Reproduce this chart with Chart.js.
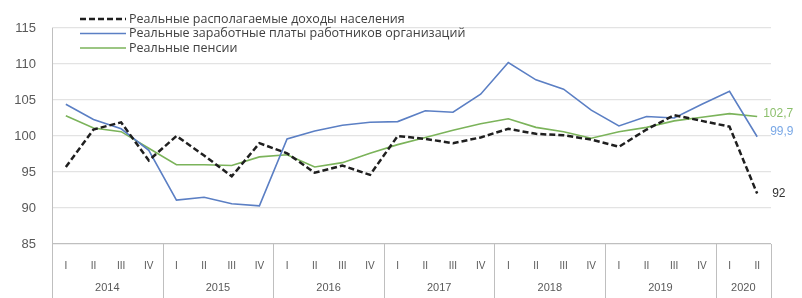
<!DOCTYPE html>
<html>
<head>
<meta charset="utf-8">
<script src="https://cdn.jsdelivr.net/npm/chart.js@4.4.0/dist/chart.umd.min.js"></script>
<style>
    body { margin: 0; background: #fff; }
    #wrap { width: 802px; height: 298px; }
</style>
</head>
<body>
<div id="wrap"><canvas id="incomeChart" width="802" height="298"></canvas></div>
<script>
// Подписи по оси X
const quarters = ['I', 'II', 'III', 'IV', 'I', 'II', 'III', 'IV', 'I', 'II', 'III', 'IV',
    'I', 'II', 'III', 'IV', 'I', 'II', 'III', 'IV', 'I', 'II', 'III', 'IV', 'I', 'II'];
const years = ['2014', '2015', '2016', '2017', '2018', '2019', '2020'];
const quartersPerYear = [4, 4, 4, 4, 4, 4, 2];

// Ось Y
const yTicks = [85, 90, 95, 100, 105, 110, 115];

// Ряды данных, % к соответствующему периоду предыдущего года
const incomes = [95.7, 100.9, 101.9, 96.6, 100.0, 97.3, 94.4, 99.0, 97.6, 94.9, 95.9, 94.6,
    100.0, 99.6, 99.0, 99.8, 101.0, 100.3, 100.1, 99.5, 98.5, 100.9, 102.9, 102.1, 101.3, 92.0];
const wages = [104.4, 102.3, 101.0, 98.0, 91.1, 91.5, 90.6, 90.3, 99.6, 100.7, 101.5, 101.9,
    102.0, 103.5, 103.3, 105.8, 110.2, 107.8, 106.5, 103.6, 101.4, 102.7, 102.5, 104.4, 106.2, 99.9];
const pensions = [102.8, 101.1, 100.6, 98.3, 96.0, 96.0, 95.9, 97.1, 97.4, 95.7, 96.3, 97.6,
    98.8, 99.8, 100.8, 101.7, 102.4, 101.2, 100.6, 99.7, 100.6, 101.2, 102.1, 102.6, 103.1, 102.7];

const seriesNames = [
    'Реальные располагаемые доходы населения',
    'Реальные заработные платы работников организаций',
    'Реальные пенсии'
];

// Годы и разделители под осью X
const yearAxisPlugin = {
    id: 'yearAxis',
    afterDraw(chart) {
        const ctx = chart.ctx;
        const x = chart.scales.x;
        const area = chart.chartArea;
        const bottom = chart.height;
        const half = (x.getPixelForValue(1) - x.getPixelForValue(0)) / 2;

        ctx.save();
        ctx.strokeStyle = '#bfbfbf';
        ctx.lineWidth = 1;

        // левая вертикальная линия
        ctx.beginPath();
        ctx.moveTo(Math.round(area.left) + 0.5, area.top);
        ctx.lineTo(Math.round(area.left) + 0.5, bottom);
        ctx.stroke();

        ctx.font = '11px "Liberation Sans", Arial, sans-serif';
        ctx.fillStyle = '#595959';
        ctx.textAlign = 'center';
        ctx.textBaseline = 'middle';

        let idx = 0;
        years.forEach((year, i) => {
            const n = quartersPerYear[i];
            const start = x.getPixelForValue(idx) - half;
            const end = x.getPixelForValue(idx + n - 1) + half;
            const px = Math.round(end) + 0.5;
            ctx.beginPath();
            ctx.moveTo(px, area.bottom);
            ctx.lineTo(px, bottom);
            ctx.stroke();
            ctx.fillText(year, (start + end) / 2, 288);
            idx += n;
        });
        ctx.restore();
    }
};

// Легенда списком и подписи последних значений
const legendPlugin = {
    id: 'listLegend',
    afterDraw(chart) {
        const ctx = chart.ctx;
        ctx.save();
        ctx.textBaseline = 'middle';
        chart.data.datasets.forEach((ds, i) => {
            const y = 19 + i * 14.5;
            ctx.strokeStyle = ds.borderColor;
            ctx.lineWidth = ds.borderWidth;
            ctx.setLineDash(ds.borderDash || []);
            ctx.beginPath();
            ctx.moveTo(80, y);
            ctx.lineTo(126, y);
            ctx.stroke();
            ctx.setLineDash([]);
            ctx.font = '12.5px "Open Sans", Arial, sans-serif';
            ctx.fillStyle = '#404040';
            ctx.textAlign = 'left';
            ctx.fillText(ds.label, 129, y);

            // значение последней точки
            const meta = chart.getDatasetMeta(i);
            const last = meta.data[meta.data.length - 1];
            const v = ds.data[ds.data.length - 1];
            ctx.fillStyle = ds.endLabel.color;
            ctx.font = '12px "Liberation Sans", Arial, sans-serif';
            ctx.fillText(String(v).replace('.', ','), last.x + ds.endLabel.dx, last.y + ds.endLabel.dy);
        });
        ctx.restore();
    }
};

document.addEventListener('DOMContentLoaded', function() {
    const canvas = document.getElementById('incomeChart');

    new Chart(canvas, {
        type: 'line',
        data: {
            labels: quarters,
            datasets: [
                {
                    label: seriesNames[0],
                    data: incomes,
                    borderColor: '#1f1f1f',
                    borderWidth: 2.5,
                    borderDash: [6, 3],
                    endLabel: { color: '#333333', dx: 15, dy: 0 }
                },
                {
                    label: seriesNames[1],
                    data: wages,
                    borderColor: '#5b7fc4',
                    borderWidth: 1.6,
                    endLabel: { color: '#7aa8e6', dx: 13, dy: -5 }
                },
                {
                    label: seriesNames[2],
                    data: pensions,
                    borderColor: '#7bb35a',
                    borderWidth: 1.6,
                    endLabel: { color: '#8cbf6c', dx: 6, dy: -3 }
                }
            ]
        },
        options: {
            responsive: false,
            animation: false,
            layout: {
                padding: { top: 28, right: 31, left: 0, bottom: 0 }
            },
            elements: {
                point: { radius: 0 },
                line: { tension: 0, borderCapStyle: 'butt' }
            },
            plugins: {
                legend: { display: false },
                tooltip: { enabled: false }
            },
            scales: {
                x: {
                    offset: true,
                    grid: { display: false },
                    border: { display: false },
                    ticks: {
                        color: '#595959',
                        font: { size: 10, family: '"Liberation Sans", Arial, sans-serif' },
                        padding: 8,
                        autoSkip: false,
                        maxRotation: 0
                    },
                    afterFit(scale) { scale.height = 54; }
                },
                y: {
                    min: 85,
                    max: 115,
                    afterBuildTicks(scale) {
                        scale.ticks = yTicks.map(v => ({ value: v }));
                    },
                    grid: {
                        color: ctx => ctx.tick && ctx.tick.value === 85 ? '#bfbfbf' : '#e3e3e3',
                        lineWidth: 1.2,
                        drawTicks: false
                    },
                    border: { display: false },
                    ticks: {
                        color: '#595959',
                        font: { size: 13, family: '"Liberation Sans", Arial, sans-serif' },
                        padding: 16
                    },
                    afterFit(scale) { scale.width = 52; }
                }
            }
        },
        plugins: [yearAxisPlugin, legendPlugin]
    });
});
</script>
</body>
</html>
